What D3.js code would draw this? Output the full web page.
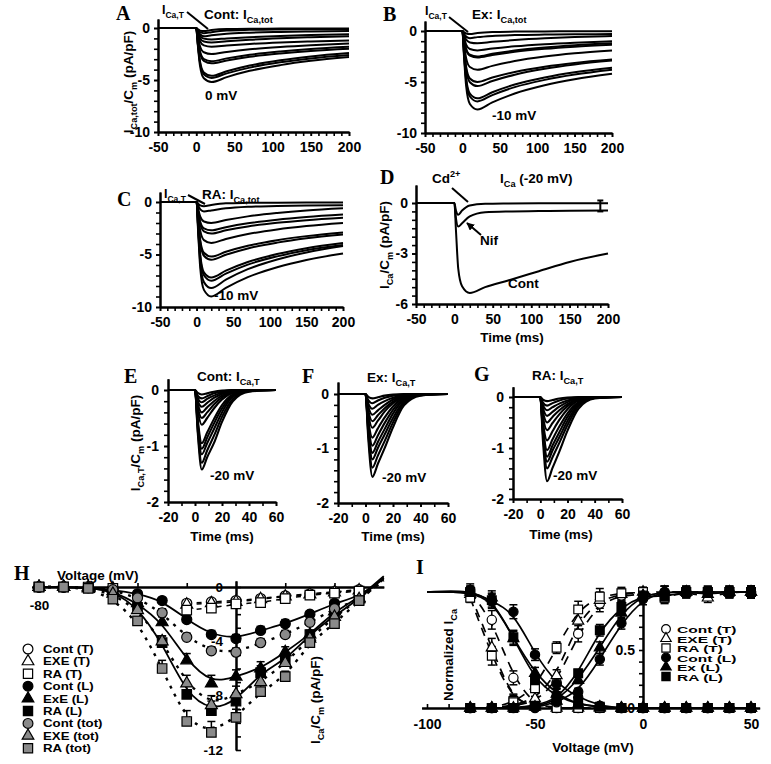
<!DOCTYPE html>
<html>
<head>
<meta charset="utf-8">
<script src="https://cdn.jsdelivr.net/npm/d3@7/dist/d3.min.js"></script>
<style>
html,body{margin:0;padding:0;background:#fff;}
svg{display:block;}
</style>
</head>
<body>
<svg id="fig" width="771" height="764" xmlns="http://www.w3.org/2000/svg"></svg>
<script>
// ================= DATA =================
// Panels A-D: time points (ms) at which trace values were read
const tTot = [-50, 0, 2, 5, 10, 20, 40, 70, 110, 150, 200];
const tracesA = [
  [0,0,-0.1,-0.25,-0.3,-0.2,-0.1,-0.07,-0.06,-0.05,-0.05],
  [0,0,-0.2,-0.4,-0.5,-0.4,-0.25,-0.18,-0.14,-0.12,-0.1],
  [0,0,-0.3,-0.6,-0.8,-0.7,-0.55,-0.45,-0.38,-0.33,-0.3],
  [0,0,-0.33,-0.77,-1.02,-1.1,-1.0,-0.88,-0.76,-0.68,-0.6],
  [0,0,-0.42,-0.98,-1.3,-1.4,-1.28,-1.13,-0.99,-0.89,-0.8],
  [0,0,-0.54,-1.26,-1.67,-1.8,-1.68,-1.53,-1.39,-1.29,-1.2],
  [0,0,-0.75,-1.75,-2.33,-2.5,-2.3,-2.05,-1.82,-1.65,-1.5],
  [0,0,-0.96,-2.24,-2.98,-3.2,-2.92,-2.57,-2.25,-2.01,-1.8],
  [0,0,-1.02,-2.38,-3.16,-3.4,-3.12,-2.77,-2.45,-2.21,-2.0],
  [0,0,-1.38,-3.22,-4.28,-4.6,-4.16,-3.61,-3.1,-2.73,-2.4],
  [0,0,-1.44,-3.36,-4.46,-4.8,-4.36,-3.81,-3.3,-2.93,-2.6],
  [0,0,-1.56,-3.64,-4.84,-5.2,-4.72,-4.12,-3.57,-3.16,-2.8]
];
const tracesB = [
  [0,0,-0.1,-0.25,-0.3,-0.2,-0.1,-0.06,-0.04,-0.03,-0.02],
  [0,0,-0.25,-0.55,-0.7,-0.6,-0.48,-0.4,-0.35,-0.32,-0.3],
  [0,0,-0.36,-0.84,-1.12,-1.2,-1.06,-0.89,-0.72,-0.6,-0.5],
  [0,0,-0.57,-1.33,-1.77,-1.9,-1.72,-1.5,-1.29,-1.14,-1.0],
  [0,0,-0.75,-1.75,-2.33,-2.5,-2.24,-1.92,-1.62,-1.4,-1.2],
  [0,0,-0.78,-1.82,-2.42,-2.6,-2.35,-2.04,-1.75,-1.54,-1.35],
  [0,0,-1.14,-2.66,-3.53,-3.8,-3.42,-2.95,-2.51,-2.19,-1.9],
  [0,0,-1.5,-3.5,-4.65,-5.0,-4.56,-4.01,-3.5,-3.13,-2.8],
  [0,0,-1.62,-3.78,-5.02,-5.4,-4.9,-4.28,-3.7,-3.28,-2.9],
  [0,0,-1.98,-4.62,-6.14,-6.6,-6.0,-5.25,-4.56,-4.05,-3.6],
  [0,0,-2.07,-4.83,-6.42,-6.9,-6.28,-5.5,-4.79,-4.27,-3.8],
  [0,0,-2.31,-5.39,-7.16,-7.7,-7.0,-6.13,-5.32,-4.73,-4.2]
];
const tracesC = [
  [0,0,-0.15,-0.32,-0.4,-0.28,-0.12,-0.08,-0.06,-0.05,-0.05],
  [0,0,-0.3,-0.7,-0.9,-0.8,-0.6,-0.45,-0.38,-0.33,-0.3],
  [0,0,-0.6,-1.4,-1.86,-2.0,-1.72,-1.37,-1.05,-0.81,-0.6],
  [0,0,-0.81,-1.89,-2.51,-2.7,-2.4,-2.03,-1.68,-1.43,-1.2],
  [0,0,-0.9,-2.1,-2.79,-3.0,-2.7,-2.33,-1.98,-1.73,-1.5],
  [0,0,-1.17,-2.73,-3.63,-3.9,-3.52,-3.05,-2.61,-2.29,-2.0],
  [0,0,-1.56,-3.64,-4.84,-5.2,-4.74,-4.17,-3.64,-3.25,-2.9],
  [0,0,-1.65,-3.85,-5.12,-5.5,-5.02,-4.42,-3.87,-3.46,-3.1],
  [0,0,-2.16,-5.04,-6.7,-7.2,-6.54,-5.72,-4.96,-4.4,-3.9],
  [0,0,-2.25,-5.25,-6.98,-7.5,-6.82,-5.96,-5.18,-4.6,-4.1],
  [0,0,-2.46,-5.74,-7.63,-8.2,-7.4,-6.4,-5.48,-4.8,-4.2],
  [0,0,-2.7,-6.3,-8.37,-9.0,-8.18,-7.16,-6.21,-5.52,-4.9]
];
const dCont = [0,0,-1.6,-3.9,-4.95,-5.35,-5.0,-4.6,-4.05,-3.5,-3.0];
const dNif  = [0,0,-0.9,-1.4,-1.2,-0.8,-0.55,-0.5,-0.48,-0.46,-0.45];
const dCd   = [0,0,-0.45,-0.7,-0.45,-0.15,-0.05,-0.03,-0.02,-0.02,-0.02];
const dBarT = [190], dBarLo = [-0.5], dBarHi = [0.15];

// Panels E-G: T-type traces
const tT = [-20, 0, 2, 5, 9, 14, 20, 28, 40, 60];
const tracesE = [
  [0,0,-0.75,-1.42,-1.2,-0.95,-0.57,-0.2,-0.03,0],
  [0,0,-0.7,-1.3,-1.08,-0.82,-0.48,-0.16,-0.02,0],
  [0,0,-0.62,-1.15,-0.95,-0.7,-0.4,-0.12,-0.02,0],
  [0,0,-0.58,-1.05,-0.85,-0.6,-0.33,-0.1,-0.01,0],
  [0,0,-0.52,-0.95,-0.76,-0.52,-0.27,-0.08,0,0],
  [0,0,-0.36,-0.62,-0.5,-0.33,-0.17,-0.05,0,0],
  [0,0,-0.3,-0.5,-0.4,-0.26,-0.13,-0.04,0,0],
  [0,0,-0.24,-0.4,-0.31,-0.2,-0.1,-0.03,0,0],
  [0,0,-0.19,-0.3,-0.23,-0.14,-0.07,-0.02,0,0],
  [0,0,-0.14,-0.22,-0.16,-0.1,-0.05,-0.01,0,0],
  [0,0,-0.1,-0.15,-0.11,-0.06,-0.03,0,0,0],
  [0,0,-0.05,-0.08,-0.06,-0.03,-0.01,0,0,0]
];
const tracesF = [
  [0,0,-0.81,-1.52,-1.28,-0.99,-0.61,-0.21,-0.03,0],
  [0,0,-0.72,-1.35,-1.13,-0.86,-0.52,-0.17,-0.02,0],
  [0,0,-0.65,-1.2,-0.99,-0.74,-0.44,-0.14,-0.02,0],
  [0,0,-0.6,-1.08,-0.88,-0.64,-0.36,-0.11,-0.01,0],
  [0,0,-0.54,-0.95,-0.76,-0.53,-0.29,-0.09,0,0],
  [0,0,-0.47,-0.8,-0.63,-0.43,-0.23,-0.07,0,0],
  [0,0,-0.37,-0.62,-0.49,-0.32,-0.17,-0.05,0,0],
  [0,0,-0.3,-0.5,-0.39,-0.26,-0.14,-0.04,0,0],
  [0,0,-0.23,-0.38,-0.3,-0.2,-0.1,-0.03,0,0],
  [0,0,-0.17,-0.27,-0.2,-0.13,-0.07,-0.02,0,0],
  [0,0,-0.11,-0.17,-0.12,-0.07,-0.03,-0.01,0,0],
  [0,0,-0.05,-0.08,-0.06,-0.03,-0.01,0,0,0]
];
const tracesG = [
  [0,0,-0.87,-1.65,-1.39,-1.07,-0.66,-0.23,-0.03,0],
  [0,0,-0.74,-1.4,-1.18,-0.9,-0.55,-0.18,-0.02,0],
  [0,0,-0.68,-1.27,-1.05,-0.79,-0.47,-0.15,-0.02,0],
  [0,0,-0.64,-1.17,-0.95,-0.69,-0.39,-0.12,-0.01,0],
  [0,0,-0.59,-1.04,-0.83,-0.58,-0.32,-0.1,0,0],
  [0,0,-0.5,-0.85,-0.67,-0.45,-0.24,-0.07,0,0],
  [0,0,-0.39,-0.65,-0.51,-0.34,-0.18,-0.05,0,0],
  [0,0,-0.3,-0.5,-0.39,-0.26,-0.14,-0.04,0,0],
  [0,0,-0.22,-0.37,-0.29,-0.19,-0.1,-0.03,0,0],
  [0,0,-0.16,-0.26,-0.2,-0.13,-0.07,-0.02,0,0],
  [0,0,-0.11,-0.17,-0.12,-0.07,-0.03,-0.01,0,0],
  [0,0,-0.05,-0.08,-0.06,-0.03,-0.01,0,0,0]
];

// Tick values
const ticksLongX = [-50, 0, 50, 100, 150, 200];
const ticksShortX = [-20, 0, 20, 40, 60];
const ticksY10 = [0, -5, -10];
const ticksY6 = [0, -3, -6];
const ticksY2 = [0, -1, -2];

// Panel H: I-V relations (pA/pF)
const hV = [-80,-70,-60,-50,-40,-30,-20,-10,0,10,20,30,40,50];
const hContT  = [0,0,0,-0.1,null,null,-1.2,-1.1,-1.0,-0.85,-0.65,-0.5,-0.35,-0.2];
const hExeT   = [0,0,0,-0.1,null,null,-1.3,-1.2,-1.1,-0.9,-0.7,-0.55,-0.4,-0.25];
const hRAT    = [0,0,0,-0.1,null,null,-1.7,-1.55,-1.25,-1.15,-0.85,-0.6,-0.45,-0.3];
const hContL  = [0,0,-0.05,-0.2,-0.5,-1.0,-2.4,-3.5,-3.8,-3.2,-2.7,-2.0,-1.2,-0.7];
const hExeL   = [0,0,-0.05,-0.3,-1.2,-2.6,-5.4,-7.1,-6.6,-6.0,-4.8,-3.5,-1.8,-0.8];
const hRAL    = [0,0,-0.05,-0.3,-1.5,-4.1,-7.9,-9.1,-8.4,-6.3,-5.4,-3.5,-2.1,-0.9];
const hContTot= [0,0,-0.05,-0.2,-0.8,-1.9,-3.7,-4.7,-4.8,-4.1,-3.5,-2.6,-1.6,-0.95];
const hExeTot = [0,0,-0.1,-0.5,-1.7,-4.0,-7.1,-8.7,-7.9,-7.0,-5.6,-3.8,-2.2,-0.9];
const hRATot  = [0,0,-0.1,-0.9,-2.5,-6.0,-9.9,-10.7,-9.6,-7.7,-6.6,-4.1,-2.7,-1.0];
// fitted lines continue to +60 mV (reversal region)
const hFitV60 = 60;
const hFit60 = [0.6, 0.8, 0.7, 0.5, 0.7, 0.6]; // ContL, ExeL, RAL, ContTot, ExeTot, RATot
const hErrContL  = [0,0,0,0.1,0.2,0.2,0.3,0.3,0.3,0.3,0.3,0.2,0.2,0.1];
const hErrExeL   = [0,0,0,0.1,0.2,0.4,0.5,0.6,0.5,0.5,0.4,0.3,0.2,0.1];
const hErrRAL    = [0,0,0,0.1,0.3,0.5,0.6,0.7,0.6,0.5,0.4,0.3,0.2,0.1];
const hErrContTot= [0,0,0,0.1,0.2,0.3,0.3,0.3,0.3,0.3,0.3,0.2,0.2,0.1];
const hErrExeTot = [0,0,0,0.1,0.3,0.4,0.6,0.7,0.6,0.5,0.4,0.3,0.2,0.1];
const hErrRATot  = [0,0,0,0.2,0.3,0.6,0.8,0.8,0.6,0.5,0.4,0.3,0.2,0.1];
const hErrT      = [0,0,0,0,0,0,0.2,0.2,0.2,0.2,0.2,0.2,0.15,0.1];
const hTicksY = [0, -4, -8, -12];

// Panel I: normalized activation / inactivation
const iV = [-80,-70,-60,-50,-40,-30,-20,-10,0,10,20,30,40,50];
const iInContL = [1.02,0.92,0.83,0.46,0.21,0.09,0.02,0,0,0,0,0,0,0];
const iInExL   = [1.0,0.95,0.6,0.3,0.12,0.03,0.01,0,0,0,0,0,0,0];
const iInRAL   = [1.0,0.93,0.61,0.24,0.1,0.03,0.01,0,0,0,0,0,0,0];
const iAcContL = [0,0,0,0,0.05,0.14,0.42,0.73,0.94,1.0,1.0,1.0,1.0,1.0];
const iAcExL   = [0,0,0,0.01,0.06,0.24,0.52,0.82,0.97,1.0,1.0,0.98,1.0,1.0];
const iAcRAL   = [0,0,0,0.02,0.07,0.3,0.67,0.87,0.97,0.96,1.0,1.0,1.0,1.0];
const iInContT = [1.0,0.76,0.26,0.02,0,0,0,0,0,0,0,0,0,0];
const iInExeT  = [0.98,0.52,0.05,0.03,0,0,0,0,0,0,0,0,0,0];
const iInRAT   = [0.95,0.45,0.06,0.02,0,0,0,0,0,0,0,0,0,0];
const iAcContT = [0,0,0.02,0.05,0.22,0.64,0.9,0.97,0.98,1.0,1.0,1.0,1.0,1.0];
const iAcExeT  = [0,0,0.02,0.08,0.28,0.75,0.93,0.98,1.0,1.0,1.0,0.95,1.0,1.0];
const iAcRAT   = [0,0,0.05,0.17,0.52,0.85,0.96,0.99,1.0,0.95,1.0,1.0,1.0,1.0];
const iErrInL  = [0.05,0.06,0.06,0.05,0.04,0.02,0,0,0,0,0,0,0,0];
const iErrInT  = [0.04,0.08,0.06,0.03,0,0,0,0,0,0,0,0,0,0];
const iErrAcL  = [0,0,0,0,0.02,0.03,0.05,0.05,0.05,0.05,0.05,0.05,0.05,0.05];
const iErrAcT  = [0,0,0,0.02,0.05,0.07,0.07,0.05,0.04,0.05,0.04,0.04,0.04,0.05];
// fitted inactivation curves start flat at -100 mV
const iFitLeftV = -100, iFitLeftVal = 1.0;
const iTicksX = [-100, -50, 0, 50];
const iTicksY = [0, 0.5];

// ================= DRAWING =================
const SANS = "'Liberation Sans', Arial, Helvetica, sans-serif";
const SERIF = "'Liberation Serif', 'Times New Roman', serif";
const svg = d3.select("#fig");
svg.append("rect").attr("width", 771).attr("height", 764).attr("fill", "#fff");
const defs = svg.append("defs");
defs.append("marker").attr("id", "arr").attr("viewBox", "0 0 10 10")
  .attr("refX", 9).attr("refY", 5).attr("markerWidth", 4).attr("markerHeight", 4)
  .attr("orient", "auto").append("path").attr("d", "M0,0L10,5L0,10z").attr("fill", "#000");

function txt(x, y, parts, o = {}) {
  const size = o.size || 13.5;
  const t = svg.append("text")
    .attr("font-family", o.family || SANS).attr("font-weight", "bold")
    .attr("font-size", size).attr("text-anchor", o.anchor || "start")
    .attr("fill", "#000").style("white-space", "pre");
  if (o.rotate) t.attr("x", x).attr("y", y).attr("transform", `rotate(-90,${x},${y})`);
  else if (o.sx) t.attr("x", 0).attr("y", 0).attr("transform", `translate(${x},${y}) scale(${o.sx},${o.sy})`);
  else t.attr("x", x).attr("y", y);
  let cur = 0;
  (Array.isArray(parts) ? parts : [parts]).forEach(p => {
    const s = typeof p === "string" ? p : p[0];
    const kind = typeof p === "string" ? null : p[1];
    const off = kind === "sub" ? size * 0.3 : kind === "sup" ? -size * 0.42 : 0;
    const ts = t.append("tspan").text(s);
    if (off - cur !== 0) ts.attr("dy", off - cur);
    if (kind) ts.attr("font-size", size * 0.68);
    cur = off;
  });
  return t;
}
const fmt = d => String(d);
function styleAxis(g, fs) {
  g.attr("font-family", null).attr("font-size", null);
  g.selectAll("path.domain").attr("stroke", "#000").attr("stroke-width", 2);
  g.selectAll(".tick line").attr("stroke", "#000").attr("stroke-width", 1.6);
  g.selectAll(".tick text").attr("font-family", SANS).attr("font-weight", "bold")
    .attr("font-size", fs).attr("fill", "#000");
}
function ext(range, step) { return d3.range(range[0], range[1] + step / 2, step).map(v => +v.toFixed(3)); }

function tracePanel(c) {
  const x = d3.scaleLinear().domain(c.xDom).range(c.xPix);
  const k = (c.y0Pix - c.yBotPix) / (0 - c.yBot);
  const y = d3.scaleLinear().domain([c.yBot, c.yTop]).range([c.yBotPix, c.y0Pix + k * c.yTop]);
  const fs = 14;
  const yb = c.yBotPix, xl = c.xPix[0];
  [
    svg.append("g").attr("transform", `translate(0,${yb})`)
      .call(d3.axisBottom(x).tickValues(ext(c.xDom, c.xMinor)).tickSize(4).tickFormat(() => "").tickSizeOuter(0)),
    svg.append("g").attr("transform", `translate(0,${yb})`)
      .call(d3.axisBottom(x).tickValues(c.xMajor).tickSize(4).tickPadding(6).tickFormat(fmt).tickSizeOuter(0)),
    svg.append("g").attr("transform", `translate(${xl},0)`)
      .call(d3.axisLeft(y).tickValues(ext([c.yBot, 0], c.yMinor)).tickSize(4).tickFormat(() => "").tickSizeOuter(0)),
    svg.append("g").attr("transform", `translate(${xl},0)`)
      .call(d3.axisLeft(y).tickValues(c.yMajor).tickSize(4).tickPadding(c.yPad || 4).tickFormat(fmt).tickSizeOuter(0))
  ].forEach(g => styleAxis(g, fs));
  const line = d3.line().x((d, i) => x(c.t[i])).y(d => y(d)).curve(d3.curveMonotoneX);
  const tg = svg.append("g");
  c.rows.forEach(r => tg.append("path").attr("d", line(r)).attr("fill", "none")
    .attr("stroke", "#000").attr("stroke-width", c.lw || 2).attr("stroke-linejoin", "round"));
  return { x, y };
}

// ---------- Panel A ----------
const pA = tracePanel({ xDom: [-50, 200], xPix: [158, 349], yBot: -10, yBotPix: 132, y0Pix: 28, yTop: 0.87,
  xMajor: ticksLongX, xMinor: 10, yMajor: ticksY10, yMinor: 1, t: tTot, rows: tracesA });
txt(116, 20, "A", { family: SERIF, size: 20 });
txt(162, 14, ["I", ["Ca,T", "sub"]], { size: 12.5 });
svg.append("line").attr("x1", 187).attr("y1", 12).attr("x2", 208).attr("y2", 29).attr("stroke", "#000").attr("stroke-width", 2);
txt(204, 19, ["Cont: I", ["Ca,tot", "sub"]]);
txt(205, 100, "0 mV");
txt(133, 82, ["I", ["Ca,tot", "sub"], "/C", ["m", "sub"], " (pA/pF)"], { rotate: true, anchor: "middle" });

// ---------- Panel B ----------
const pB = tracePanel({ xDom: [-50, 200], xPix: [425, 612], yBot: -10, yBotPix: 133, y0Pix: 31, yTop: 0.98,
  xMajor: ticksLongX, xMinor: 10, yMajor: ticksY10, yMinor: 1, t: tTot, rows: tracesB });
txt(383, 21, "B", { family: SERIF, size: 20 });
txt(425, 15, ["I", ["Ca,T", "sub"]], { size: 12.5 });
svg.append("line").attr("x1", 449).attr("y1", 17).attr("x2", 468).attr("y2", 32).attr("stroke", "#000").attr("stroke-width", 2);
txt(472, 19, ["Ex: I", ["Ca,tot", "sub"]]);
txt(492, 120, "-10 mV");

// ---------- Panel C ----------
const pC = tracePanel({ xDom: [-50, 200], xPix: [160, 343], yBot: -10, yBotPix: 307, y0Pix: 202, yTop: 0.95,
  xMajor: ticksLongX, xMinor: 10, yMajor: ticksY10, yMinor: 1, t: tTot, rows: tracesC });
txt(117, 206, "C", { family: SERIF, size: 20 });
txt(164, 198, ["I", ["Ca,T", "sub"]], { size: 12.5 });
svg.append("line").attr("x1", 188).attr("y1", 195).attr("x2", 205).attr("y2", 204).attr("stroke", "#000").attr("stroke-width", 2);
txt(202, 199, ["RA: I", ["Ca,tot", "sub"]]);
txt(214, 300, "-10 mV");

// ---------- Panel D ----------
const pD = tracePanel({ xDom: [-50, 200], xPix: [416, 608], yBot: -6, yBotPix: 304, y0Pix: 203, yTop: 1.07,
  xMajor: ticksLongX, xMinor: 10, yMajor: ticksY6, yMinor: 0.5, t: tTot, rows: [dCont, dNif, dCd] });
dBarT.forEach((t, i) => {
  const bx = pD.x(t);
  svg.append("line").attr("x1", bx).attr("x2", bx).attr("y1", pD.y(dBarLo[i])).attr("y2", pD.y(dBarHi[i])).attr("stroke", "#000").attr("stroke-width", 2);
  [dBarLo[i], dBarHi[i]].forEach(v => svg.append("line").attr("x1", bx - 3).attr("x2", bx + 3)
    .attr("y1", pD.y(v)).attr("y2", pD.y(v)).attr("stroke", "#000").attr("stroke-width", 2));
});
txt(380, 184, "D", { family: SERIF, size: 20 });
txt(432, 183, ["Cd", ["2+", "sup"]]);
svg.append("line").attr("x1", 452).attr("y1", 188).attr("x2", 468).attr("y2", 202).attr("stroke", "#000").attr("stroke-width", 2);
txt(500, 183, ["I", ["Ca", "sub"], " (-20 mV)"]);
txt(480, 245, "Nif");
svg.append("line").attr("x1", 481).attr("y1", 235).attr("x2", 467).attr("y2", 223).attr("stroke", "#000").attr("stroke-width", 2).attr("marker-end", "url(#arr)");
txt(508, 288, "Cont");
txt(389, 245, ["I", ["Ca", "sub"], "/C", ["m", "sub"], " (pA/pF)"], { rotate: true, anchor: "middle" });
txt(512, 342, "Time (ms)", { anchor: "middle" });

// ---------- Panels E, F, G ----------
const pE = tracePanel({ xDom: [-20, 60], xPix: [168, 276], yBot: -2, yBotPix: 502, y0Pix: 390, yTop: 0.2,
  xMajor: ticksShortX, xMinor: 10, yMajor: ticksY2, yMinor: 0.2, yPad: 5, t: tT, rows: tracesE, lw: 2.1 });
const pF = tracePanel({ xDom: [-20, 60], xPix: [338, 448], yBot: -2, yBotPix: 503, y0Pix: 394, yTop: 0.22,
  xMajor: ticksShortX, xMinor: 10, yMajor: ticksY2, yMinor: 0.2, yPad: 5, t: tT, rows: tracesF, lw: 2.1 });
const pG = tracePanel({ xDom: [-20, 60], xPix: [513, 622], yBot: -2, yBotPix: 499, y0Pix: 397, yTop: 0.2,
  xMajor: ticksShortX, xMinor: 10, yMajor: ticksY2, yMinor: 0.2, yPad: 5, t: tT, rows: tracesG, lw: 2.1 });
txt(124, 383, "E", { family: SERIF, size: 20 });
txt(197, 381, ["Cont: I", ["Ca,T", "sub"]]);
txt(210, 480, "-20 mV");
txt(140, 443, ["I", ["Ca,T", "sub"], "/C", ["m", "sub"], " (pA/pF)"], { rotate: true, anchor: "middle" });
txt(222, 541, "Time (ms)", { anchor: "middle" });
txt(302, 383, "F", { family: SERIF, size: 20 });
txt(367, 382, ["Ex: I", ["Ca,T", "sub"]]);
txt(382, 482, "-20 mV");
txt(393, 541, "Time (ms)", { anchor: "middle" });
txt(474, 381, "G", { family: SERIF, size: 20 });
txt(532, 380, ["RA: I", ["Ca,T", "sub"]]);
txt(553, 480, "-20 mV");
txt(561, 539, "Time (ms)", { anchor: "middle" });

// ---------- symbol helpers ----------
const SYM = { circle: d3.symbolCircle, triangle: d3.symbolTriangle, square: d3.symbolSquare };
const FILL = { open: "#fff", black: "#000", gray: "#8a8a8a" };
const SIZE = { circle: 80, triangle: 62, square: 90 };
function drawSym(g, s, cx, cy, scale) {
  g.append("path").attr("d", d3.symbol().type(SYM[s.sym]).size(SIZE[s.sym] * (scale || 1))())
    .attr("transform", `translate(${cx},${cy})`).attr("fill", FILL[s.fill])
    .attr("stroke", "#000").attr("stroke-width", 1.2);
}

// ---------- Panel H ----------
const xH = d3.scaleLinear().domain([-80, 0]).range([39, 236]);
const yH = d3.scaleLinear().domain([-12, 0]).range([750, 587]);
const xHa = xH.copy().domain([-83, 60]).range([xH(-83), xH(60)]);
const yHa = yH.copy().domain([-12, 0.45]).range([yH(-12), yH(0.45)]);
styleAxis(svg.append("g").attr("transform", `translate(0,${yH(0)})`)
  .call(d3.axisTop(xHa).tickValues([-60, -40, -20, 20, 40]).tickSize(4).tickFormat(() => "").tickSizeOuter(0)), 13.5);
styleAxis(svg.append("g").attr("transform", `translate(0,${yH(0)})`)
  .call(d3.axisBottom(xHa).tickValues([-80]).tickSize(0).tickPadding(13).tickFormat(fmt).tickSizeOuter(0)), 13.5);
styleAxis(svg.append("g").attr("transform", `translate(${xH(0)},0)`)
  .call(d3.axisRight(yHa).tickValues(ext([-12, 0], 1)).tickSize(5).tickFormat(() => "").tickSizeOuter(0)), 13.5);
styleAxis(svg.append("g").attr("transform", `translate(${xH(0)},0)`)
  .call(d3.axisLeft(yHa).tickValues(hTicksY).tickSize(0).tickPadding(13).tickFormat(fmt).tickSizeOuter(0)), 13.5);

const hSeries = [
  { name: "Cont (T)", sym: "circle", fill: "open", v: hContT, e: hErrT, line: "T" },
  { name: "EXE (T)", sym: "triangle", fill: "open", v: hExeT, e: hErrT, line: "T" },
  { name: "RA (T)", sym: "square", fill: "open", v: hRAT, e: hErrT, line: "T" },
  { name: "Cont (L)", sym: "circle", fill: "black", v: hContL, e: hErrContL, line: "L", end: hFit60[0] },
  { name: "ExE (L)", sym: "triangle", fill: "black", v: hExeL, e: hErrExeL, line: "L", end: hFit60[1] },
  { name: "RA (L)", sym: "square", fill: "black", v: hRAL, e: hErrRAL, line: "L", end: hFit60[2] },
  { name: "Cont (tot)", sym: "circle", fill: "gray", v: hContTot, e: hErrContTot, line: "tot", end: hFit60[3] },
  { name: "EXE (tot)", sym: "triangle", fill: "gray", v: hExeTot, e: hErrExeTot, line: "tot", end: hFit60[4] },
  { name: "RA (tot)", sym: "square", fill: "gray", v: hRATot, e: hErrRATot, line: "tot", end: hFit60[5] }
];
const hLine = d3.line().defined(d => d[1] != null).x(d => xH(d[0])).y(d => yH(d[1])).curve(d3.curveBasis);
const hg = svg.append("g");
hSeries.forEach(s => {
  let pts = hV.map((v, i) => [v, s.v[i]]);
  if (s.line === "T") pts = pts.filter(p => p[0] >= -20);
  if (s.end != null) pts.push([hFitV60, s.end]);
  const p = hg.append("path").attr("d", hLine(pts)).attr("fill", "none").attr("stroke", "#000");
  if (s.line === "L") p.attr("stroke-width", 1.8);
  else if (s.line === "tot") p.attr("stroke-width", 2.4).attr("stroke-dasharray", "3,6");
  else p.attr("stroke-width", 1.5).attr("stroke-dasharray", "5,5");
});
hSeries.forEach(s => {
  hV.forEach((v, i) => {
    if (s.v[i] == null || !s.e[i]) return;
    const cx = xH(v), y0 = yH(s.v[i]), y1 = yH(s.v[i] + s.e[i]);
    hg.append("line").attr("x1", cx).attr("x2", cx).attr("y1", y0).attr("y2", y1).attr("stroke", "#000").attr("stroke-width", 1.5);
    hg.append("line").attr("x1", cx - 4).attr("x2", cx + 4).attr("y1", y1).attr("y2", y1).attr("stroke", "#000").attr("stroke-width", 1.5);
  });
});
[3, 4, 5, 0, 1, 2, 6, 7, 8].forEach(k => {
  const s = hSeries[k];
  hV.forEach((v, i) => { if (s.v[i] != null) drawSym(hg, s, xH(v), yH(s.v[i])); });
});
// legend H
hSeries.forEach((s, i) => {
  const ly = 649 + i * 12.4;
  drawSym(svg, s, 28, ly, 0.95);
  txt(43, ly + 4, s.name, { size: 12.5, sx: 1.06, sy: 0.84 });
});
txt(14, 580, "H", { family: SERIF, size: 20 });
txt(57, 580, "Voltage (mV)");
txt(320, 700, ["I", ["Ca", "sub"], "/C", ["m", "sub"], " (pA/pF)"], { rotate: true, anchor: "middle" });

// ---------- Panel I ----------
const xI = d3.scaleLinear().domain([-100, 50]).range([427, 751]);
const yI = d3.scaleLinear().domain([0, 1]).range([708, 592]);
const xIa = xI.copy().domain([-102.5, 54]).range([xI(-102.5), xI(54)]);
const yIa = yI.copy().domain([0, 1.04]).range([yI(0), yI(1.04)]);
styleAxis(svg.append("g").attr("transform", `translate(0,${yI(0)})`)
  .call(d3.axisTop(xIa).tickValues(ext([-100, 50], 10)).tickSize(4).tickFormat(() => "").tickSizeOuter(0)), 14);
styleAxis(svg.append("g").attr("transform", `translate(0,${yI(0)})`)
  .call(d3.axisBottom(xIa).tickValues(iTicksX).tickSize(0).tickPadding(11).tickFormat(fmt).tickSizeOuter(0)), 14);
styleAxis(svg.append("g").attr("transform", `translate(${xI(0)},0)`)
  .call(d3.axisLeft(yIa).tickValues(ext([0, 1], 0.1)).tickSize(4).tickFormat(() => "").tickSizeOuter(0)), 14);
styleAxis(svg.append("g").attr("transform", `translate(${xI(0)},0)`)
  .call(d3.axisLeft(yIa).tickValues(iTicksY).tickSize(0).tickPadding(8).tickFormat(fmt).tickSizeOuter(0)), 14);

const iSeries = [
  { sym: "circle", fill: "open", v: iInContT, e: iErrInT, T: true },
  { sym: "triangle", fill: "open", v: iInExeT, e: iErrInT, T: true },
  { sym: "square", fill: "open", v: iInRAT, e: iErrInT, T: true },
  { sym: "circle", fill: "open", v: iAcContT, e: iErrAcT, T: true },
  { sym: "triangle", fill: "open", v: iAcExeT, e: iErrAcT, T: true },
  { sym: "square", fill: "open", v: iAcRAT, e: iErrAcT, T: true },
  { sym: "circle", fill: "black", v: iInContL, e: iErrInL, inL: true },
  { sym: "triangle", fill: "black", v: iInExL, e: iErrInL, inL: true },
  { sym: "square", fill: "black", v: iInRAL, e: iErrInL, inL: true },
  { sym: "circle", fill: "black", v: iAcContL, e: iErrAcL },
  { sym: "triangle", fill: "black", v: iAcExL, e: iErrAcL },
  { sym: "square", fill: "black", v: iAcRAL, e: iErrAcL }
];
const iLine = d3.line().x(d => xI(d[0])).y(d => yI(d[1])).curve(d3.curveBasis);
const ig = svg.append("g");
iSeries.forEach(s => {
  const pts = iV.map((v, i) => [v, s.v[i]]);
  if (s.inL) pts.unshift([iFitLeftV, iFitLeftVal]);
  const p = ig.append("path").attr("d", iLine(pts)).attr("fill", "none").attr("stroke", "#000").attr("stroke-width", 1.7);
  if (s.T) p.attr("stroke-dasharray", "9,7");
});
iSeries.forEach(s => {
  iV.forEach((v, i) => {
    if (!s.e[i]) return;
    const cx = xI(v), y0 = yI(s.v[i] - s.e[i]), y1 = yI(s.v[i] + s.e[i]);
    ig.append("line").attr("x1", cx).attr("x2", cx).attr("y1", y0).attr("y2", y1).attr("stroke", "#000").attr("stroke-width", 1.5);
    [y0, y1].forEach(yy => ig.append("line").attr("x1", cx - 4).attr("x2", cx + 4).attr("y1", yy).attr("y2", yy).attr("stroke", "#000").attr("stroke-width", 1.5));
  });
});
iSeries.forEach(s => iV.forEach((v, i) => drawSym(ig, s, xI(v), yI(s.v[i]), 0.85)));
// legend I
const iLegend = [
  { name: "Cont (T)", sym: "circle", fill: "open" },
  { name: "EXE (T)", sym: "triangle", fill: "open" },
  { name: "RA (T)", sym: "square", fill: "open" },
  { name: "Cont (L)", sym: "circle", fill: "black" },
  { name: "Ex (L)", sym: "triangle", fill: "black" },
  { name: "RA (L)", sym: "square", fill: "black" }
];
iLegend.forEach((s, i) => {
  const ly = 629 + i * 9.5;
  drawSym(svg, s, 666, ly, 0.75);
  txt(677, ly + 4, s.name, { size: 13.5, sx: 1.15, sy: 0.7 });
});
txt(416, 574, "I", { family: SERIF, size: 20 });
txt(453, 655, ["Normalized I", ["Ca", "sub"]], { rotate: true, anchor: "middle" });
txt(593, 752, "Voltage (mV)", { anchor: "middle" });
</script>
</body>
</html>
